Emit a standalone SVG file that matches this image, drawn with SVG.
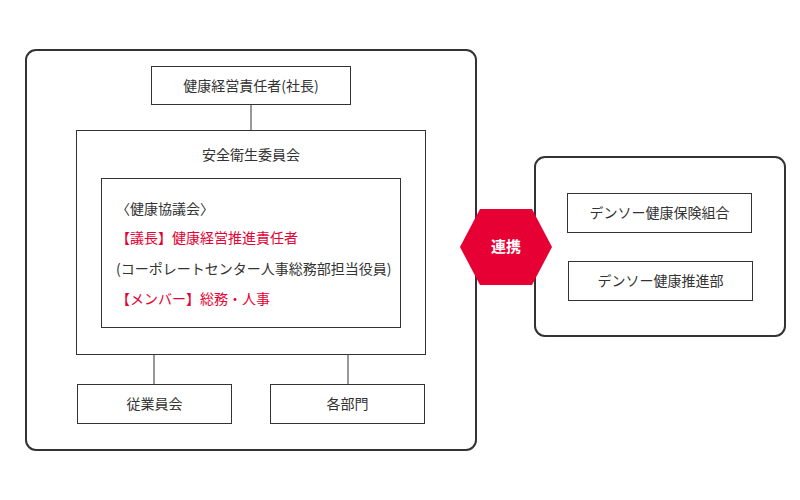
<svg xmlns="http://www.w3.org/2000/svg" width="800" height="500" viewBox="0 0 800 500">
<style>
.o{fill:#fff;stroke:#333;stroke-width:2}
.b{fill:#fff;stroke:#333;stroke-width:1}
text{font-family:"Noto Sans CJK JP","Noto Sans",sans-serif;font-size:14px;fill:#333}
.c{text-anchor:middle}
.r{fill:#e60033}
.l{stroke:#333;stroke-width:1;fill:none}
</style>
<rect width="800" height="500" fill="#fff"/>
<g id="outer-left"><rect class="o" x="26" y="50" width="450" height="400" rx="10"/></g>
<g id="outer-right"><rect class="o" x="535" y="157" width="250" height="179" rx="10"/></g>
<g id="connectors">
<line class="l" x1="251" y1="105" x2="251" y2="131"/>
<line class="l" x1="154" y1="354" x2="154" y2="385"/>
<line class="l" x1="348" y1="354" x2="348" y2="385"/>
</g>
<g id="ceo"><rect class="b" x="151.500" y="66.500" width="199" height="38"/><text class="c" x="251" y="91">健康経営責任者(社長)</text></g>
<g id="committee"><rect class="b" x="76.500" y="130.500" width="349" height="224"/><text class="c" x="251" y="160">安全衛生委員会</text></g>
<g id="council"><rect class="b" x="101.500" y="178.500" width="299" height="149"/>
<text x="116" y="214">〈健康協議会〉</text>
<text class="r" x="116" y="243">【議長】健康経営推進責任者</text>
<text x="116" y="274">(コーポレートセンター人事総務部担当役員)</text>
<text class="r" x="116" y="304">【メンバー】総務・人事</text></g>
<g id="union"><rect class="b" x="77.500" y="384.500" width="154" height="39"/><text class="c" x="154.500" y="409">従業員会</text></g>
<g id="depts"><rect class="b" x="270.500" y="384.500" width="154" height="39"/><text class="c" x="347.500" y="409">各部門</text></g>
<g id="link"><polygon points="460,247 480,209 532,209 552,247 532,285 480,285" fill="#e60033"/><text class="c" x="506" y="252" style="fill:#fff;font-weight:bold;font-size:15px">連携</text></g>
<g id="kenpo"><rect class="b" x="567.500" y="193.500" width="184" height="39"/><text class="c" x="659.500" y="218">デンソー健康保険組合</text></g>
<g id="suishin"><rect class="b" x="568.500" y="261.500" width="184" height="39"/><text class="c" x="660.500" y="286">デンソー健康推進部</text></g>
</svg>
